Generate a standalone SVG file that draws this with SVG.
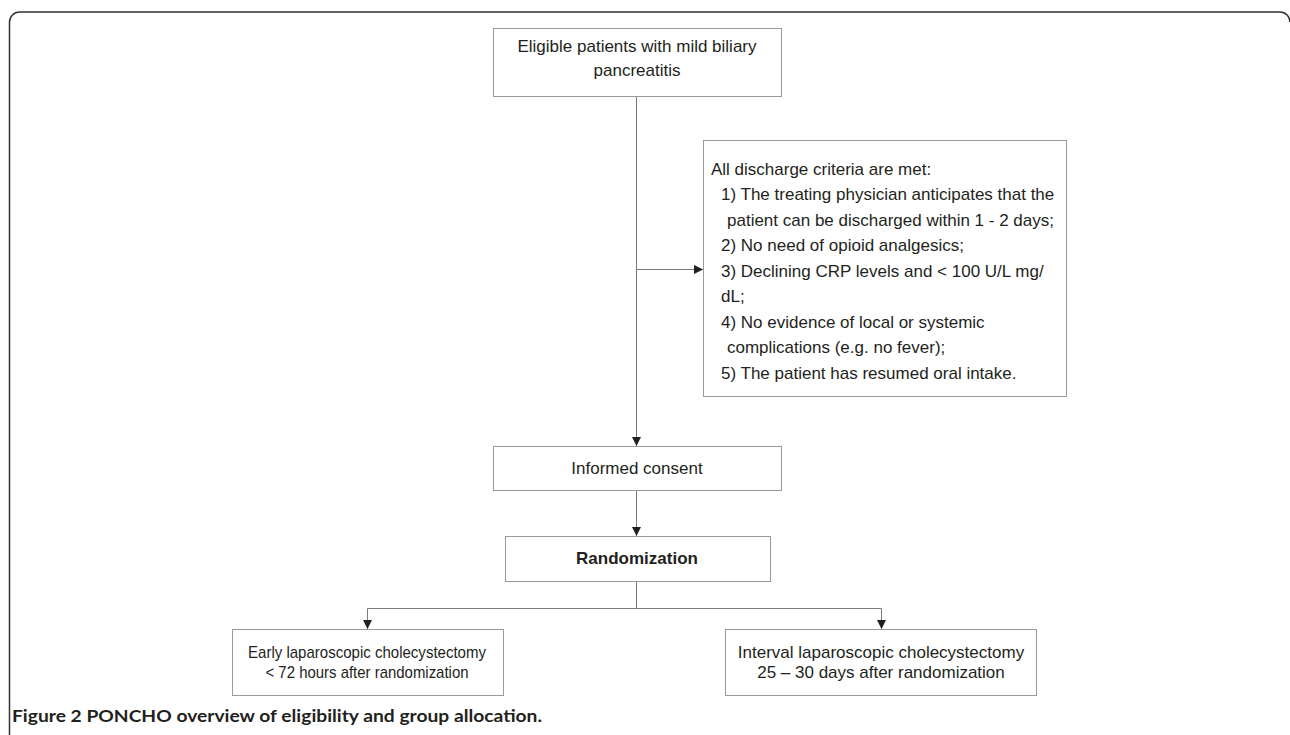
<svg xmlns="http://www.w3.org/2000/svg" width="1290" height="735" viewBox="0 0 1290 735">
<defs>
<style>
.box{fill:#fff;stroke:#9a9a9a;stroke-width:1}
.t{font-family:"Liberation Sans",Arial,sans-serif;font-size:17px;fill:#231f20}
.c{text-anchor:middle}
.b{font-weight:bold}
.ln{fill:none;stroke:#7a7a7a;stroke-width:1}
.cap{font-family:Lato,"Open Sans",sans-serif;font-weight:bold;font-size:17.5px;fill:#231f20}
</style>
<marker id="ah" viewBox="0 0 10 10" refX="10" refY="5" markerWidth="10" markerHeight="9" markerUnits="userSpaceOnUse" orient="auto">
<path d="M0,0 L10,5 L0,10 z" fill="#231f20"/>
</marker>
</defs>
<rect width="1290" height="735" fill="#fff"/>
<path d="M9.5,735 V22 A10,10 0 0 1 19.5,12 H1280 A10,10 0 0 1 1290,22" fill="none" stroke="#333" stroke-width="1.5"/>

<g id="connectors">
<path class="ln" d="M636.5,97 V446" marker-end="url(#ah)"/>
<path class="ln" d="M636.5,269.5 H703" marker-end="url(#ah)"/>
<path class="ln" d="M636.5,491 V536" marker-end="url(#ah)"/>
<path class="ln" d="M636.5,582 V608.5"/>
<path class="ln" d="M367.5,629 V608.5 H881.5 V629"/>
<path class="ln" d="M367.5,610 V629" marker-end="url(#ah)"/>
<path class="ln" d="M881.5,610 V629" marker-end="url(#ah)"/>
</g>

<g id="eligible">
<rect class="box" x="493.5" y="28.5" width="288" height="68"/>
<text class="t c" x="637" y="52">Eligible patients with mild biliary</text>
<text class="t c" x="637" y="76">pancreatitis</text>
</g>

<g id="criteria">
<rect class="box" x="703.5" y="140.5" width="363" height="256"/>
<text class="t" x="711" y="174.5">All discharge criteria are met:</text>
<text class="t" x="721" y="200">1) The treating physician anticipates that the</text>
<text class="t" x="727" y="225.5">patient can be discharged within 1 - 2 days;</text>
<text class="t" x="721" y="251">2) No need of opioid analgesics;</text>
<text class="t" x="721" y="276.5">3) Declining CRP levels and &lt; 100 U/L mg/</text>
<text class="t" x="721" y="302">dL;</text>
<text class="t" x="721" y="327.5">4) No evidence of local or systemic</text>
<text class="t" x="727" y="353">complications (e.g. no fever);</text>
<text class="t" x="721" y="378.5">5) The patient has resumed oral intake.</text>
</g>

<g id="consent">
<rect class="box" x="493.5" y="446.5" width="288" height="44"/>
<text class="t c" x="637" y="474">Informed consent</text>
</g>

<g id="randomization">
<rect class="box" x="505.5" y="536.5" width="265" height="45"/>
<text class="t c b" x="637" y="564">Randomization</text>
</g>

<g id="early">
<rect class="box" x="232.5" y="629.5" width="271" height="66"/>
<text class="t c" x="367" y="658" textLength="238" lengthAdjust="spacingAndGlyphs">Early laparoscopic cholecystectomy</text>
<text class="t c" x="367" y="678" textLength="203" lengthAdjust="spacingAndGlyphs">&lt; 72 hours after randomization</text>
</g>

<g id="interval">
<rect class="box" x="725.5" y="629.5" width="311" height="66"/>
<text class="t c" x="881" y="658">Interval laparoscopic cholecystectomy</text>
<text class="t c" x="881" y="678">25 – 30 days after randomization</text>
</g>

<text class="cap" x="12" y="722" textLength="530" lengthAdjust="spacingAndGlyphs">Figure 2 PONCHO overview of eligibility and group allocation.</text>
</svg>
